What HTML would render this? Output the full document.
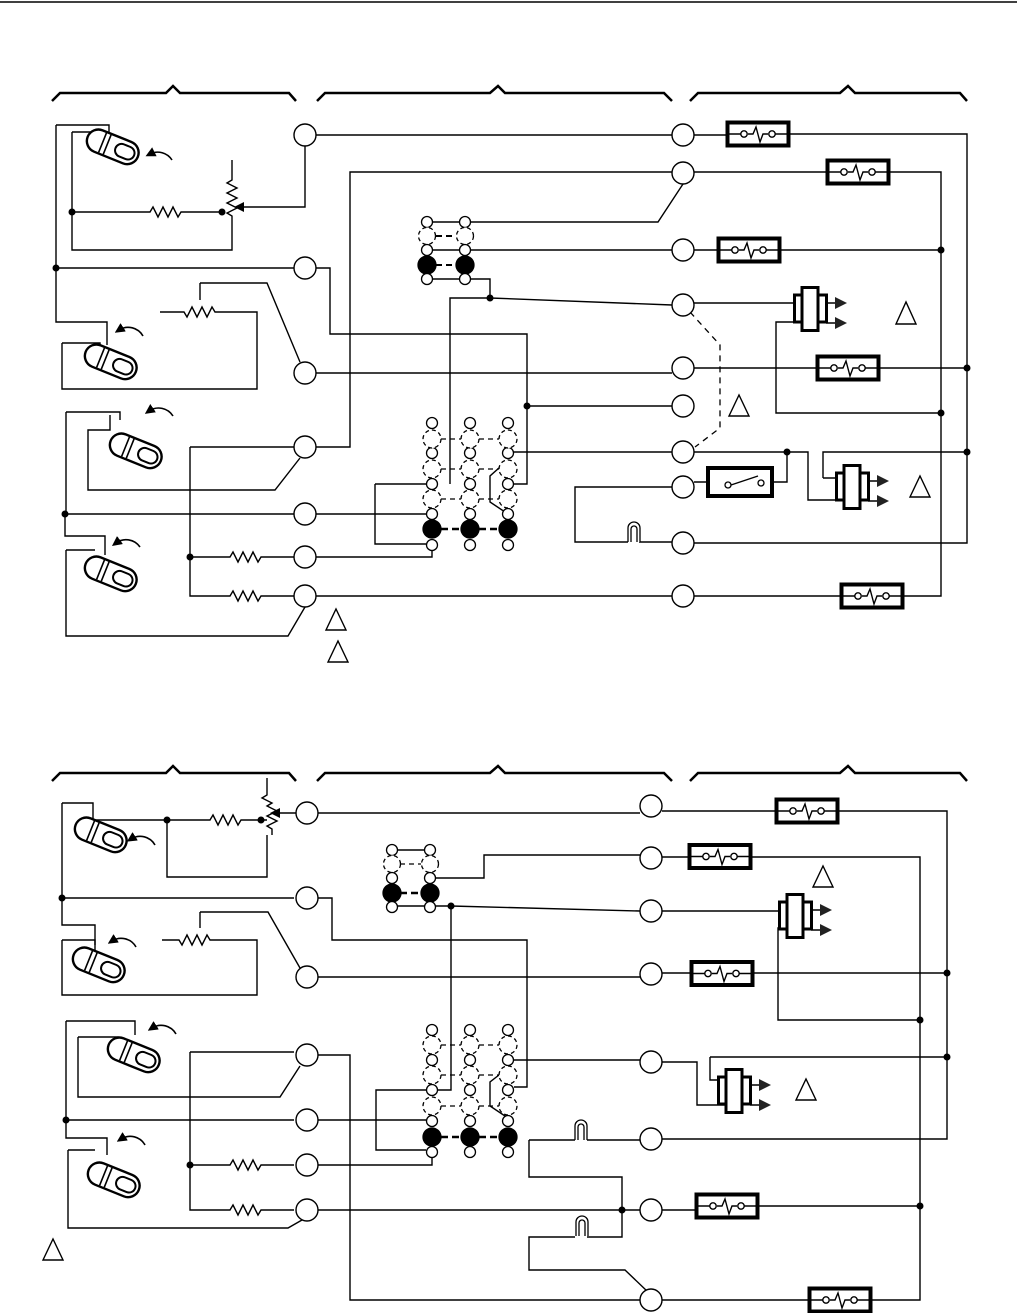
<!DOCTYPE html>
<html><head><meta charset="utf-8"><style>
html,body{margin:0;padding:0;background:#fff;}
svg{display:block;}
</style></head><body>
<svg width="1017" height="1313" viewBox="0 0 1017 1313" xmlns="http://www.w3.org/2000/svg">
<defs>
<symbol id="rb" viewBox="0 0 64 26" overflow="visible">
<rect x="1.5" y="1.5" width="61" height="23" fill="#fff" stroke="#000" stroke-width="4"/>
<path d="M22 13 H27 L30 6 L34 21 L37 13 H42" fill="none" stroke="#000" stroke-width="1.4"/>
<circle cx="18" cy="13" r="3.2" fill="#fff" stroke="#000" stroke-width="1.4"/>
<circle cx="46" cy="13" r="3.2" fill="#fff" stroke="#000" stroke-width="1.4"/>
<path d="M0 13 H15 M49 13 H64" stroke="#000" stroke-width="1.4"/>
</symbol>
<symbol id="th" viewBox="-30 -16 60 32" overflow="visible">
<g transform="rotate(22)">
<rect x="-26" y="-11" width="54" height="23" rx="11.5" fill="#fff" stroke="#000" stroke-width="2.4"/>
<rect x="4" y="-6" width="20" height="13" rx="6.5" fill="none" stroke="#000" stroke-width="2"/>
<path d="M-10 -10 V11 M-5 -10 V11" stroke="#000" stroke-width="1.6"/>
</g>
</symbol>
<symbol id="cap" viewBox="0 0 60 46" overflow="visible">
<rect x="1.5" y="9" width="32" height="27" fill="#fff" stroke="#000" stroke-width="3"/>
<rect x="9" y="1.5" width="16" height="43" fill="#fff" stroke="#000" stroke-width="3"/>
<path d="M33 17 H42 M33 37 H42" stroke="#000" stroke-width="1.5"/>
<path d="M42 11 L54 17 L42 23 Z M42 31 L54 37 L42 43 Z" fill="#222"/>
</symbol>
<symbol id="bulb" viewBox="0 0 14 24" overflow="visible">
<path d="M1 22 V8 A6 6 0 0 1 13 8 V22 M4 22 V9 A3 3 0 0 1 10 9 V22" fill="#fff" stroke="#000" stroke-width="1.3"/>
</symbol>
<marker id="ah" markerWidth="10" markerHeight="10" refX="5" refY="5" orient="auto" markerUnits="userSpaceOnUse"><path d="M0 0 L10 5 L0 10 Z" fill="#000"/></marker>
</defs>
<line x1="0" y1="2" x2="1017" y2="2" stroke="#000" stroke-width="1.5"/>
<g fill="none" stroke="#000" stroke-width="2.5">
<path d="M52 101 L60 93 H166 L173 86 L180 93 H289 L296 101"/>
<path d="M317 101 L325 93 H490 L498 86 L505 93 H664 L672 101"/>
<path d="M690 101 L698 93 H840 L848 86 L855 93 H960 L967 101"/>
<path d="M52 781 L60 773 H166 L173 766 L180 773 H289 L296 781"/>
<path d="M317 781 L325 773 H490 L498 766 L505 773 H664 L672 781"/>
<path d="M690 781 L698 773 H840 L848 766 L855 773 H960 L967 781"/>
</g>

<!-- TOP DIAGRAM WIRES -->
<g fill="none" stroke="#000" stroke-width="1.4">
<path d="M305 135 H683"/>
<path d="M305 146 V207 H239" marker-end="url(#ah)"/>
<path d="M56 125 H109 V143 M72 132 H103 V143"/>
<path d="M56 125 V322 H107 V345"/>
<path d="M72 132 V250 H232 V222 M72 212 H150 l3 -5 l5 10 l5 -10 l5 10 l5 -10 l5 10 l3 -5 H222"/>
<path d="M232 160 V180 l-5 3 l10 5 l-10 5 l10 5 l-10 5 l10 5 l-10 5 l5 3 V222"/>
<path d="M56 268 H294"/>
<path d="M62 343 H100 V352 M62 343 V389 H257 V312 H215 l-3 -5 l-5 10 l-5 -10 l-5 10 l-5 -10 l-5 10 l-3 -5 H160"/>
<path d="M200 283 H267 L300 362 M200 283 V300"/>
<path d="M316 268 H330 V334 H527 V484 H514"/>
<path d="M316 373 H672"/>
<path d="M316 447 H350 V172 H672"/>
<path d="M300 458 L275 490 H88 V430 H110 V415 M66 412 H120 V420 M66 412 V514"/>
<path d="M65 514 H294 M65 514 V536 H105 V555 M66 550 H95 M66 550 V636 H288 L305 607"/>
<path d="M190 447 H294 M190 447 V596 H230 l3 -5 l5 10 l5 -10 l5 10 l5 -10 l5 10 l3 -5 H294 M190 557 H230 l3 -5 l5 10 l5 -10 l5 10 l5 -10 l5 10 l3 -5 H294"/>
<path d="M316 596 H672"/>
<path d="M316 514 H426 M316 557 H432 V551 M375 484 H426 M375 484 V544 H426"/>
<path d="M427 222 H465 H658 L683 184 M427 250 H672 M427 279 H465 H490 V298 H450 V484 M490 298 L672 305"/>
<path d="M527 406 H672 M508 452 H672"/>
<path d="M508 460 L490 476 V502 L508 514"/>
<path d="M694 135 H726 M790 134 H967 V543 H694"/>
<path d="M694 172 H826 M888 172 H941 V596 H904 M694 596 H840"/>
<path d="M694 250 H718 M780 250 H941"/>
<path d="M694 303 H793 M794 322 H776 V413 H941"/>
<path d="M694 368 H816 M878 368 H967"/>
<path d="M694 452 H787 H808 V500 H835 M787 452 V482 H772 M694 482 H707 M823 478 V452 H967 M823 478 H835"/>
<path d="M683 487 H575 V542 H628 M639 542 H672"/>
</g>
<path d="M690 312 L720 345 V428 L695 447" fill="none" stroke="#000" stroke-width="1.3" stroke-dasharray="6,5"/>

<g>
<rect x="708" y="468" width="64" height="28" fill="#fff" stroke="#000" stroke-width="4"/>
<path d="M731 485 L758 476" stroke="#000" stroke-width="1.3"/>
<circle cx="728" cy="485" r="3" fill="#fff" stroke="#000" stroke-width="1.3"/>
<circle cx="761" cy="483" r="3" fill="#fff" stroke="#000" stroke-width="1.3"/>
</g>
<use href="#bulb" x="627" y="520" width="14" height="24"/>

<use href="#rb" x="726" y="121" width="64" height="26"/>
<use href="#rb" x="826" y="159" width="64" height="26"/>
<use href="#rb" x="717" y="237" width="64" height="26"/>
<use href="#rb" x="816" y="355" width="64" height="26"/>
<use href="#rb" x="840" y="583" width="64" height="26"/>
<use href="#cap" x="793" y="286" width="60" height="46"/>
<use href="#cap" x="835" y="464" width="60" height="46"/>

<use href="#th" x="82" y="130" width="60" height="32"/>
<use href="#th" x="80" y="345" width="60" height="32"/>
<use href="#th" x="105" y="434" width="60" height="32"/>
<use href="#th" x="80" y="557" width="60" height="32"/>
<g fill="none" stroke="#000" stroke-width="1.6">
<path d="M172 160 A17 17 0 0 0 150 154" marker-end="url(#ah)"/>
<path d="M143 336 A17 17 0 0 0 119 330" marker-end="url(#ah)"/>
<path d="M173 416 A17 17 0 0 0 149 411" marker-end="url(#ah)"/>
<path d="M140 547 A17 17 0 0 0 116 543" marker-end="url(#ah)"/>
</g>

<g fill="#fff" stroke="#000" stroke-width="1.4">
<circle cx="305" cy="135" r="11"/><circle cx="305" cy="268" r="11"/><circle cx="305" cy="373" r="11"/>
<circle cx="305" cy="447" r="11"/><circle cx="305" cy="514" r="11"/><circle cx="305" cy="557" r="11"/><circle cx="305" cy="596" r="11"/>
<circle cx="683" cy="135" r="11"/><circle cx="683" cy="173" r="11"/><circle cx="683" cy="250" r="11"/><circle cx="683" cy="305" r="11"/>
<circle cx="683" cy="368" r="11"/><circle cx="683" cy="406" r="11"/><circle cx="683" cy="452" r="11"/><circle cx="683" cy="487" r="11"/>
<circle cx="683" cy="543" r="11"/><circle cx="683" cy="596" r="11"/>
</g>
<g stroke="#000" stroke-width="1.3">
<path d="M436 236 H456 M436 265 H456" stroke-dasharray="6,4" stroke-width="2"/>
<circle cx="427" cy="222" r="5.5" fill="#fff"/><circle cx="465" cy="222" r="5.5" fill="#fff"/>
<circle cx="427" cy="236" r="8.5" fill="#fff" stroke-dasharray="4,3"/><circle cx="465" cy="236" r="8.5" fill="#fff" stroke-dasharray="4,3"/>
<circle cx="427" cy="250" r="5.5" fill="#fff"/><circle cx="465" cy="250" r="5.5" fill="#fff"/>
<circle cx="427" cy="265" r="9" fill="#000"/><circle cx="465" cy="265" r="9" fill="#000"/>
<circle cx="427" cy="279" r="5.5" fill="#fff"/><circle cx="465" cy="279" r="5.5" fill="#fff"/>
</g>
<g stroke="#000" stroke-width="1.3">
<path d="M441 439 H461 M479 439 H499 M441 469 H461 M479 469 H499 M441 499 H461 M479 499 H499" stroke-dasharray="5,4"/>
<path d="M441 529 H461 M479 529 H499" stroke-dasharray="7,4" stroke-width="2.5"/>
<g fill="#fff">
<circle cx="432" cy="423" r="5.5"/><circle cx="470" cy="423" r="5.5"/><circle cx="508" cy="423" r="5.5"/>
<circle cx="432" cy="453" r="5.5"/><circle cx="470" cy="453" r="5.5"/><circle cx="508" cy="453" r="5.5"/>
<circle cx="432" cy="484" r="5.5"/><circle cx="470" cy="484" r="5.5"/><circle cx="508" cy="484" r="5.5"/>
<circle cx="432" cy="514" r="5.5"/><circle cx="470" cy="514" r="5.5"/><circle cx="508" cy="514" r="5.5"/>
<circle cx="432" cy="545" r="5.5"/><circle cx="470" cy="545" r="5.5"/><circle cx="508" cy="545" r="5.5"/>
</g>
<g fill="#fff" stroke-dasharray="4,3">
<circle cx="432" cy="439" r="9"/><circle cx="470" cy="439" r="9"/><circle cx="508" cy="439" r="9"/>
<circle cx="432" cy="469" r="9"/><circle cx="470" cy="469" r="9"/><circle cx="508" cy="469" r="9"/>
<circle cx="432" cy="499" r="9"/><circle cx="470" cy="499" r="9"/><circle cx="508" cy="499" r="9"/>
</g>
<circle cx="432" cy="529" r="9" fill="#000"/><circle cx="470" cy="529" r="9" fill="#000"/><circle cx="508" cy="529" r="9" fill="#000"/>
</g>
<g fill="#000">
<circle cx="56" cy="268" r="3.5"/><circle cx="72" cy="212" r="3.5"/><circle cx="222" cy="212" r="3.5"/>
<circle cx="490" cy="298" r="3.5"/><circle cx="527" cy="406" r="3.5"/><circle cx="65" cy="514" r="3.5"/>
<circle cx="190" cy="557" r="3.5"/><circle cx="941" cy="250" r="3.5"/><circle cx="967" cy="368" r="3.5"/>
<circle cx="941" cy="413" r="3.5"/><circle cx="967" cy="452" r="3.5"/><circle cx="787" cy="452" r="3.5"/>
</g>
<g fill="none" stroke="#000" stroke-width="1.4">
<path d="M896 324 L906 302 L916 324 Z"/><path d="M729 416 L739 395 L749 416 Z"/>
<path d="M910 497 L920 476 L930 497 Z"/><path d="M326 630 L336 609 L346 630 Z"/><path d="M328 662 L338 641 L348 662 Z"/>
<path d="M813 887 L823 866 L833 887 Z"/><path d="M796 1100 L806 1079 L816 1100 Z"/><path d="M43 1260 L53 1239 L63 1260 Z"/>
</g>

<!-- BOTTOM -->
<g fill="none" stroke="#000" stroke-width="1.4">
<path d="M62 803 H93 V822 M88 820 H210 l3 -5 l5 10 l5 -10 l5 10 l5 -10 l5 10 l3 -5 H267"/>
<path d="M62 803 V925 H95 V945"/>
<path d="M167 820 V877 H267 V835 M267 778 V795 l-5 3 l10 5 l-5 3 l10 5 l-10 5 l10 5 l-10 5 l5 3 V835"/>
<path d="M296 813 H275" marker-end="url(#ah)"/>
<path d="M318 813 H640"/>
<path d="M62 898 H294"/>
<path d="M62 940 H95 V955 M62 940 V995 H257 V940 H210 l-3 -5 l-5 10 l-5 -10 l-5 10 l-5 -10 l-5 10 l-3 -5 H162"/>
<path d="M200 912 H268 L300 968 M200 912 V928"/>
<path d="M316 898 H332 V940 H527 V1087 H514"/>
<path d="M316 977 H640"/>
<path d="M392 850 H430 M430 878 H484 V855 H640 M392 906 H430 H451 L640 911 M451 906 V1090 H376 V1150 H426 M432 1156 V1165 H316"/>
<path d="M662 911 H785 M786 928 H778 V1020 H920"/>
<path d="M662 973 H690 M752 973 H947"/>
<path d="M66 1021 H135 V1035 M78 1037 H118 V1045 M78 1037 V1097 H280 L300 1066 M66 1021 V1120 H294"/>
<path d="M66 1120 V1138 H107 V1155 M68 1150 H95 M68 1150 V1228 H288 L302 1220"/>
<path d="M316 1055 H350 V1300 H640"/>
<path d="M190 1052 H294 M190 1052 V1210 H230 l3 -5 l5 10 l5 -10 l5 10 l5 -10 l5 10 l3 -5 H294 M190 1165 H230 l3 -5 l5 10 l5 -10 l5 10 l5 -10 l5 10 l3 -5 H294"/>
<path d="M316 1120 H426"/>
<path d="M508 1060 H640 M662 1062 H697 V1105 H725 M710 1057 V1080 H725 M710 1057 H947"/>
<path d="M508 1068 L490 1082 V1106 L508 1118"/>
<path d="M529 1140 H575 M587 1140 H640 M529 1140 V1177 H622 V1237 H587 M575 1237 H529 V1270 H625 L648 1292"/>
<path d="M662 1139 H947 V811 H837 M316 1210 H640 M662 1210 H695 M758 1206 H920"/>
<path d="M662 811 H775 M662 857 H688 M752 857 H920 V1300 H870 M662 1300 H808"/>
</g>
<use href="#bulb" x="574" y="1118" width="14" height="24"/>
<use href="#bulb" x="575" y="1214" width="14" height="24"/>
<use href="#rb" x="775" y="797" width="64" height="28"/>
<use href="#rb" x="688" y="843" width="64" height="27"/>
<use href="#rb" x="690" y="960" width="64" height="27"/>
<use href="#rb" x="695" y="1192" width="64" height="28"/>
<use href="#rb" x="808" y="1286" width="64" height="28"/>
<use href="#cap" x="778" y="893" width="60" height="46"/>
<use href="#cap" x="717" y="1068" width="60" height="46"/>

<use href="#th" x="70" y="818" width="60" height="32"/>
<use href="#th" x="68" y="948" width="60" height="32"/>
<use href="#th" x="103" y="1038" width="60" height="32"/>
<use href="#th" x="83" y="1163" width="60" height="32"/>
<g fill="none" stroke="#000" stroke-width="1.6">
<path d="M155 845 A17 17 0 0 0 131 839" marker-end="url(#ah)"/>
<path d="M136 947 A17 17 0 0 0 112 941" marker-end="url(#ah)"/>
<path d="M176 1034 A17 17 0 0 0 152 1028" marker-end="url(#ah)"/>
<path d="M145 1145 A17 17 0 0 0 121 1139" marker-end="url(#ah)"/>
</g>

<g fill="#fff" stroke="#000" stroke-width="1.4">
<circle cx="307" cy="813" r="11"/><circle cx="307" cy="898" r="11"/><circle cx="307" cy="977" r="11"/>
<circle cx="307" cy="1055" r="11"/><circle cx="307" cy="1120" r="11"/><circle cx="307" cy="1165" r="11"/><circle cx="307" cy="1210" r="11"/>
<circle cx="651" cy="806" r="11"/><circle cx="651" cy="858" r="11"/><circle cx="651" cy="911" r="11"/><circle cx="651" cy="974" r="11"/>
<circle cx="651" cy="1062" r="11"/><circle cx="651" cy="1139" r="11"/><circle cx="651" cy="1210" r="11"/><circle cx="651" cy="1300" r="11"/>
</g>
<g stroke="#000" stroke-width="1.3">
<path d="M400 864 H421" stroke-dasharray="5,4"/>
<path d="M400 893 H421" stroke-dasharray="7,4" stroke-width="2.5"/>
<circle cx="392" cy="850" r="5.5" fill="#fff"/><circle cx="430" cy="850" r="5.5" fill="#fff"/>
<circle cx="392" cy="864" r="8.5" fill="#fff" stroke-dasharray="4,3"/><circle cx="430" cy="864" r="8.5" fill="#fff" stroke-dasharray="4,3"/>
<circle cx="392" cy="878" r="5.5" fill="#fff"/><circle cx="430" cy="878" r="5.5" fill="#fff"/>
<circle cx="392" cy="893" r="9" fill="#000"/><circle cx="430" cy="893" r="9" fill="#000"/>
<circle cx="392" cy="907" r="5.5" fill="#fff"/><circle cx="430" cy="907" r="5.5" fill="#fff"/>
</g>
<g stroke="#000" stroke-width="1.3">
<path d="M441 1045 H461 M479 1045 H499 M441 1075 H461 M479 1075 H499 M441 1106 H461 M479 1106 H499" stroke-dasharray="5,4"/>
<path d="M441 1137 H461 M479 1137 H499" stroke-dasharray="7,4" stroke-width="2.5"/>
<g fill="#fff">
<circle cx="432" cy="1030" r="5.5"/><circle cx="470" cy="1030" r="5.5"/><circle cx="508" cy="1030" r="5.5"/>
<circle cx="432" cy="1060" r="5.5"/><circle cx="470" cy="1060" r="5.5"/><circle cx="508" cy="1060" r="5.5"/>
<circle cx="432" cy="1090" r="5.5"/><circle cx="470" cy="1090" r="5.5"/><circle cx="508" cy="1090" r="5.5"/>
<circle cx="432" cy="1121" r="5.5"/><circle cx="470" cy="1121" r="5.5"/><circle cx="508" cy="1121" r="5.5"/>
<circle cx="432" cy="1152" r="5.5"/><circle cx="470" cy="1152" r="5.5"/><circle cx="508" cy="1152" r="5.5"/>
</g>
<g fill="#fff" stroke-dasharray="4,3">
<circle cx="432" cy="1045" r="9"/><circle cx="470" cy="1045" r="9"/><circle cx="508" cy="1045" r="9"/>
<circle cx="432" cy="1075" r="9"/><circle cx="470" cy="1075" r="9"/><circle cx="508" cy="1075" r="9"/>
<circle cx="432" cy="1106" r="9"/><circle cx="470" cy="1106" r="9"/><circle cx="508" cy="1106" r="9"/>
</g>
<circle cx="432" cy="1137" r="9" fill="#000"/><circle cx="470" cy="1137" r="9" fill="#000"/><circle cx="508" cy="1137" r="9" fill="#000"/>
</g>
<g fill="#000">
<circle cx="62" cy="898" r="3.5"/><circle cx="167" cy="820" r="3.5"/><circle cx="261" cy="820" r="3.5"/>
<circle cx="451" cy="906" r="3.5"/><circle cx="66" cy="1120" r="3.5"/><circle cx="190" cy="1165" r="3.5"/>
<circle cx="947" cy="973" r="3.5"/><circle cx="920" cy="1020" r="3.5"/><circle cx="947" cy="1057" r="3.5"/>
<circle cx="920" cy="1206" r="3.5"/><circle cx="622" cy="1210" r="3.5"/>
</g>
</svg>
</body></html>
